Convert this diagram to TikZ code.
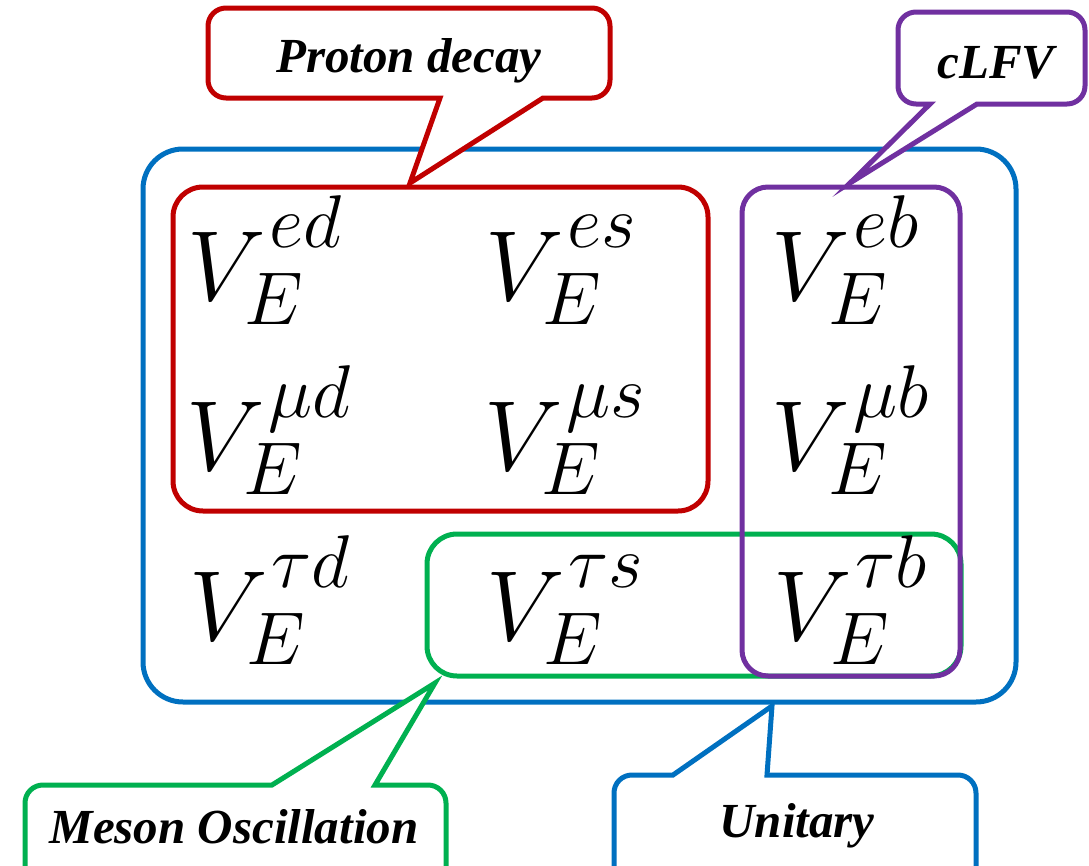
\RequirePackage{fix-cm}
\documentclass[tikz,border=0pt]{standalone}
\usepackage{fontspec}
\usepackage{amsmath}
\usetikzlibrary{positioning}
\newfontfamily\tagfont{Liberation Serif}
\DeclareMathSizes{100}{100}{75}{55}
\definecolor{ublu}{HTML}{0070C0}
\definecolor{pred}{HTML}{C00000}
\definecolor{lpur}{HTML}{7030A0}
\definecolor{mgrn}{HTML}{00B050}
\newcommand{\VE}[1]{V_E^{\raisebox{16pt}{$\scriptstyle\mkern1mu #1$}}}
\tikzset{
  frame/.style={line width=5bp},
  bubble/.style={draw=#1, line width=5bp, fill=white, line join=miter},
  entry/.style={inner sep=0pt, anchor=base west, font=\fontsize{100}{120}\selectfont},
  tag/.style={inner sep=0pt, anchor=base, font=\tagfont\bfseries\itshape\fontsize{49bp}{59bp}\selectfont},
}

\begin{document}
\begin{tikzpicture}[x=1bp,y=-1bp]
  \clip (0,0) rectangle (1089,866);
  % groups of couplings
  \draw[frame,ublu,rounded corners=40bp] (143,149) rectangle (1016,702);
  \draw[frame,pred,rounded corners=30bp] (173,187) rectangle (708,511);
  \draw[frame,mgrn,rounded corners=30bp] (427,534) rectangle (961,676);
  \draw[frame,lpur,rounded corners=26bp] (742,187) rectangle (960,676);
  % entries
  \node[entry] (ed) at (187,300) {$\VE{ed}$};
  \node[entry] (es) at (485,300) {$\VE{es}$};
  \node[entry] (eb) at (771,300) {$\VE{eb}$};
  \node[entry] (md) at (186,470) {$\VE{\mu d}$};
  \node[entry] (ms) at (484,470) {$\VE{\mu s}$};
  \node[entry] (mb) at (771,470) {$\VE{\mu b}$};
  \node[entry] (td) at (189,640) {$\VE{\tau d}$};
  \node[entry] (ts) at (486,640) {$\VE{\tau s}$};
  \node[entry] (tb) at (773,640) {$\VE{\tau b}$};
  % callouts
  \draw[bubble=pred] (440,98) -- (410,183) -- (543,98) -- (592,98) arc[start angle=90,end angle=0,radius=18]
    -- (610,26) arc[start angle=0,end angle=-90,radius=18] -- (226,8) arc[start angle=270,end angle=180,radius=18]
    -- (208,80) arc[start angle=180,end angle=90,radius=18] -- cycle;
  \node[tag] (pd) at (409,72) {Proton decay};
  \draw[bubble=lpur] (930,104) -- (850,183) -- (977,104) -- (1067,104) arc[start angle=90,end angle=0,radius=18]
    -- (1085,30) arc[start angle=0,end angle=-90,radius=18] -- (916,12) arc[start angle=270,end angle=180,radius=18]
    -- (898,86) arc[start angle=180,end angle=90,radius=18] -- cycle;
  \node[tag] (lfv) at (996,78) {cLFV};
  \draw[bubble=mgrn] (272,785) -- (435,683) -- (375,785) -- (428,785) arc[start angle=270,end angle=360,radius=18]
    -- (446,882) arc[start angle=0,end angle=90,radius=18] -- (43,900) arc[start angle=90,end angle=180,radius=18]
    -- (25,803) arc[start angle=180,end angle=270,radius=18] -- cycle;
  \node[tag] (mo) at (234,843) {Meson Oscillation};
  \draw[bubble=ublu] (673,775) -- (772,706) -- (767,775) -- (958,775) arc[start angle=270,end angle=360,radius=18]
    -- (976,882) arc[start angle=0,end angle=90,radius=18] -- (632,900) arc[start angle=90,end angle=180,radius=18]
    -- (614,793) arc[start angle=180,end angle=270,radius=18] -- cycle;
  \node[tag] (un) at (797,837) {Unitary};
\end{tikzpicture}
\end{document}
